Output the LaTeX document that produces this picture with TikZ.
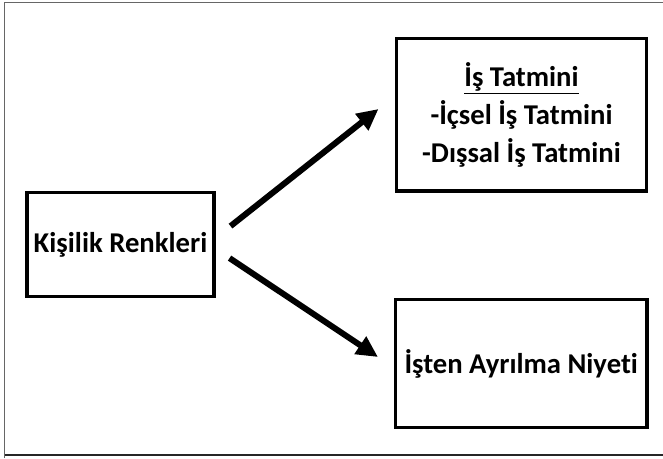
\documentclass[tikz,border=0pt]{standalone}
\usepackage{fontspec}
\setmainfont[Ligatures=NoCommon]{Carlito}
\usetikzlibrary{arrows.meta,calc}

\tikzset{
  framebox/.style={draw=black, line width=2.3pt, fill=white, inner sep=0pt,
    font=\bfseries\fontsize{21.5}{28.5}\selectfont, align=center},
  flowarrow/.style={line width=4.5pt, -{Triangle[length=16pt,width=15pt]}},
}

\begin{document}
\begin{tikzpicture}[x=0.75pt, y=-0.75pt]
  \useasboundingbox (0,0) rectangle (663,458);

  % page frame
  \draw[line width=1.2pt, gray!80!black] (4.5,458) -- (4.5,2.5) -- (663,2.5);
  \draw[line width=1.3pt, black!85] (4.5,455) -- (663,455);

  % boxes
  \node[framebox, minimum width=140.25pt, minimum height=77.6pt] (kisilik)
    at (120.5,244.6) {Kişilik Renkleri};
  \node[framebox, minimum width=187.5pt, minimum height=114.4pt] (tatmin)
    at (521.5,114.75) {\underline{İş Tatmini}\\-İçsel İş Tatmini\\-Dışsal İş Tatmini};
  \node[framebox, minimum width=188.6pt, minimum height=96pt] (ayrilma)
    at (521.25,363.5) {İşten Ayrılma Niyeti};

  % arrow ends
  \coordinate (s1) at ($(kisilik.east)+(15,-18.5)$);
  \coordinate (s2) at ($(kisilik.east)+(14,13.5)$);
  \coordinate (t1) at ($(tatmin.west)+(-16.5,-5.75)$);
  \coordinate (t2) at ($(ayrilma.west)+(-16,-6.5)$);

  \draw[flowarrow] (s1) -- (t1);
  \draw[flowarrow] (s2) -- (t2);
\end{tikzpicture}
\end{document}
